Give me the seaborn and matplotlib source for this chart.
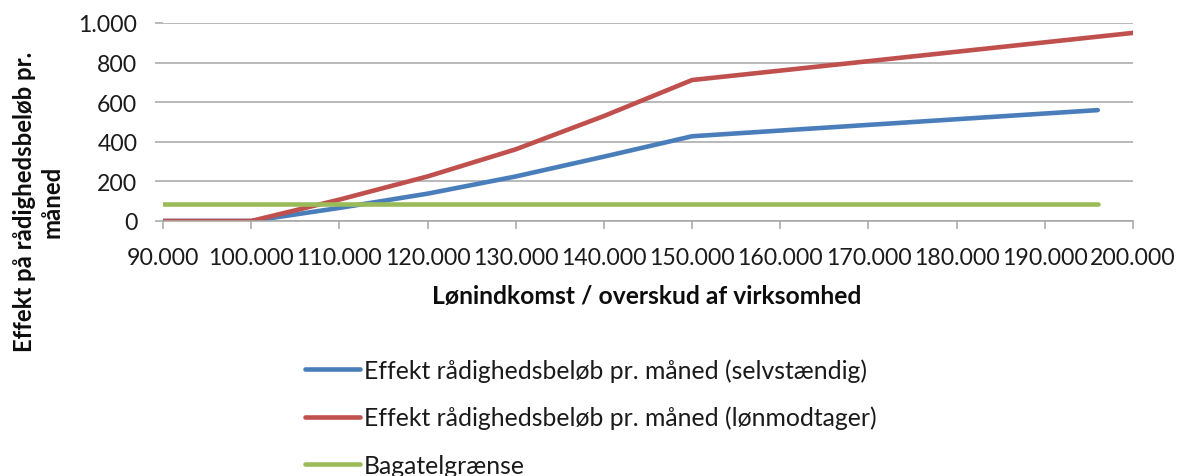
import matplotlib
matplotlib.use("Agg")
import matplotlib.pyplot as plt
import matplotlib.ticker as mticker
import seaborn as sns
import pandas as pd

# ---- data ----
x_selv = [90000, 100000, 110000, 120000, 130000, 140000, 150000, 196000]
y_selv = [0, 0, 66, 138, 225, 325, 428, 560]
x_lon = [90000, 100000, 110000, 120000, 130000, 140000, 150000, 200000]
y_lon = [0, 0, 108, 225, 362, 530, 712, 950]
x_bag = [90000, 196000]
y_bag = [86, 86]
labels = ["Effekt rådighedsbeløb pr. måned (selvstændig)",
          "Effekt rådighedsbeløb pr. måned (lønmodtager)",
          "Bagatelgrænse"]
x_ticks = list(range(90000, 200001, 10000))
y_ticks = list(range(0, 1001, 200))
x_title = "Lønindkomst / overskud af virksomhed"
y_title_lines = ["Effekt på rådighedsbeløb pr.", "måned"]

colors = ["#4A7EBB", "#C0504D", "#9BBB59"]

sns.set_theme(style="white")
plt.rcParams["font.family"] = ["Lato", "DejaVu Sans"]

W, H = 1184, 477
fig = plt.figure(figsize=(W / 100, H / 100), dpi=100)
renderer = fig.canvas.get_renderer()


def fit_size(s, target_w, weight="normal", base=16.0):
    t = fig.text(0, 0, s, fontsize=base, fontweight=weight)
    w = t.get_window_extent(renderer).width
    t.remove()
    return base * target_w / w


fs_tick = fit_size("90.000", 72)
fs_xt = fit_size(x_title, 430, "bold")
fs_yt = fit_size(y_title_lines[0], 300, "bold")
fs_leg = fit_size(labels[0], 504)

ax = fig.add_axes([163 / W, 1 - 222 / H, (1133 - 163) / W, (222 - 24) / H])

df = pd.concat([
    pd.DataFrame({"x": x_selv, "y": y_selv, "s": labels[0]}),
    pd.DataFrame({"x": x_lon, "y": y_lon, "s": labels[1]}),
    pd.DataFrame({"x": x_bag, "y": y_bag, "s": labels[2]}),
])
for lab, col in zip(labels, colors):
    sub = df[df["s"] == lab]
    sns.lineplot(data=sub, x="x", y="y", color=col, lw=3.3, ax=ax,
                 label=lab, sort=False, solid_capstyle="round")

ax.set_xlim(90000, 200000)
ax.set_ylim(0, 1000)
ax.set_xticks(x_ticks)
ax.set_yticks(y_ticks)
fmt = mticker.FuncFormatter(lambda v, p: f"{v:,.0f}".replace(",", "."))
ax.xaxis.set_major_formatter(fmt)
ax.yaxis.set_major_formatter(fmt)

gcol = "#A6A6A6"
ax.grid(axis="y", color=gcol, lw=1.1)
ax.grid(axis="x", visible=False)
for s in ["top", "right", "left"]:
    ax.spines[s].set_visible(False)
ax.spines["bottom"].set_color(gcol)
ax.spines["bottom"].set_linewidth(1.1)
ax.tick_params(axis="x", direction="out", length=5.5, width=1.1, color=gcol,
               pad=13, labelsize=fs_tick, labelcolor="#1a1a1a", bottom=True)
ax.tick_params(axis="y", direction="out", length=6, width=1.1, color=gcol,
               pad=12.5, labelsize=fs_tick, labelcolor="#1a1a1a", left=True)
ax.set_axisbelow(True)

ax.set_xlabel("")
ax.set_ylabel("")
fig.text(647 / W, 1 - 297 / H, x_title, ha="center", va="center",
         fontsize=fs_xt, fontweight="bold", color="#0d0d0d")
fig.text(38 / W, 1 - 202 / H, "\n".join(y_title_lines), ha="center", va="center",
         rotation=90, multialignment="center", fontsize=fs_yt, fontweight="bold",
         color="#0d0d0d", linespacing=1.22)

# legend: handle 305-360 px, text from 364 px, row centres at 370/418/465 px
fpx = fs_leg * 100 / 72
leg_top = 354.0
lspace = 0.75
for _ in range(3):
    if ax.get_legend() is not None:
        ax.get_legend().remove()
    leg = ax.legend(loc="upper left", bbox_to_anchor=(305 / W, 1 - leg_top / H),
                    bbox_transform=fig.transFigure, frameon=False, fontsize=fs_leg,
                    handlelength=55 / fpx, handletextpad=4 / fpx,
                    labelspacing=lspace, borderaxespad=0, borderpad=0)
    fig.canvas.draw()
    ys = []
    for ln in leg.get_lines():
        bb = ln.get_window_extent(renderer)
        ys.append(H - (bb.y0 + bb.y1) / 2)
    pitch = (ys[-1] - ys[0]) / (len(ys) - 1)
    lspace += (47.5 - pitch) / fpx
    leg_top += 370 - ys[0]
for t in leg.get_texts():
    t.set_color("#1a1a1a")

fig.savefig("out.png", dpi=100)
